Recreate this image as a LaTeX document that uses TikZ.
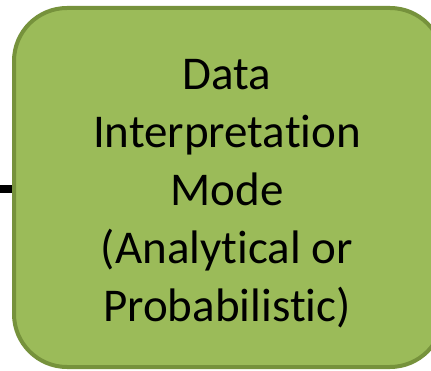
\documentclass[tikz,border=0pt]{standalone}
\usepackage{fontspec}
\setmainfont[Ligatures=NoCommon]{Carlito}
\definecolor{boxfill}{HTML}{9BBB59}
\definecolor{boxline}{HTML}{76923C}
\tikzset{
  modebox/.style={draw=boxline, fill=boxfill, line width=4pt, rounded corners=53pt,
    minimum width=429pt, minimum height=359pt, inner sep=0pt},
  modetext/.style={align=center, inner sep=0pt, font=\fontsize{47pt}{58pt}\selectfont},
  stub/.style={draw=black, line width=8pt}
}
\begin{document}
\begin{tikzpicture}[x=1pt,y=-1pt]
\useasboundingbox (0,0) rectangle (431,371);
\node[modebox] (box) at (228.5,187.5) {};
\node[modetext] (label) at ([yshift=-6pt]box.center -| 227,0) {Data\\Interpretation\\Mode\\(Analytical or\\Probabilistic)};
\coordinate (in) at (0,189);
\draw[stub] (in) -- (box.west |- in);
\end{tikzpicture}
\end{document}
